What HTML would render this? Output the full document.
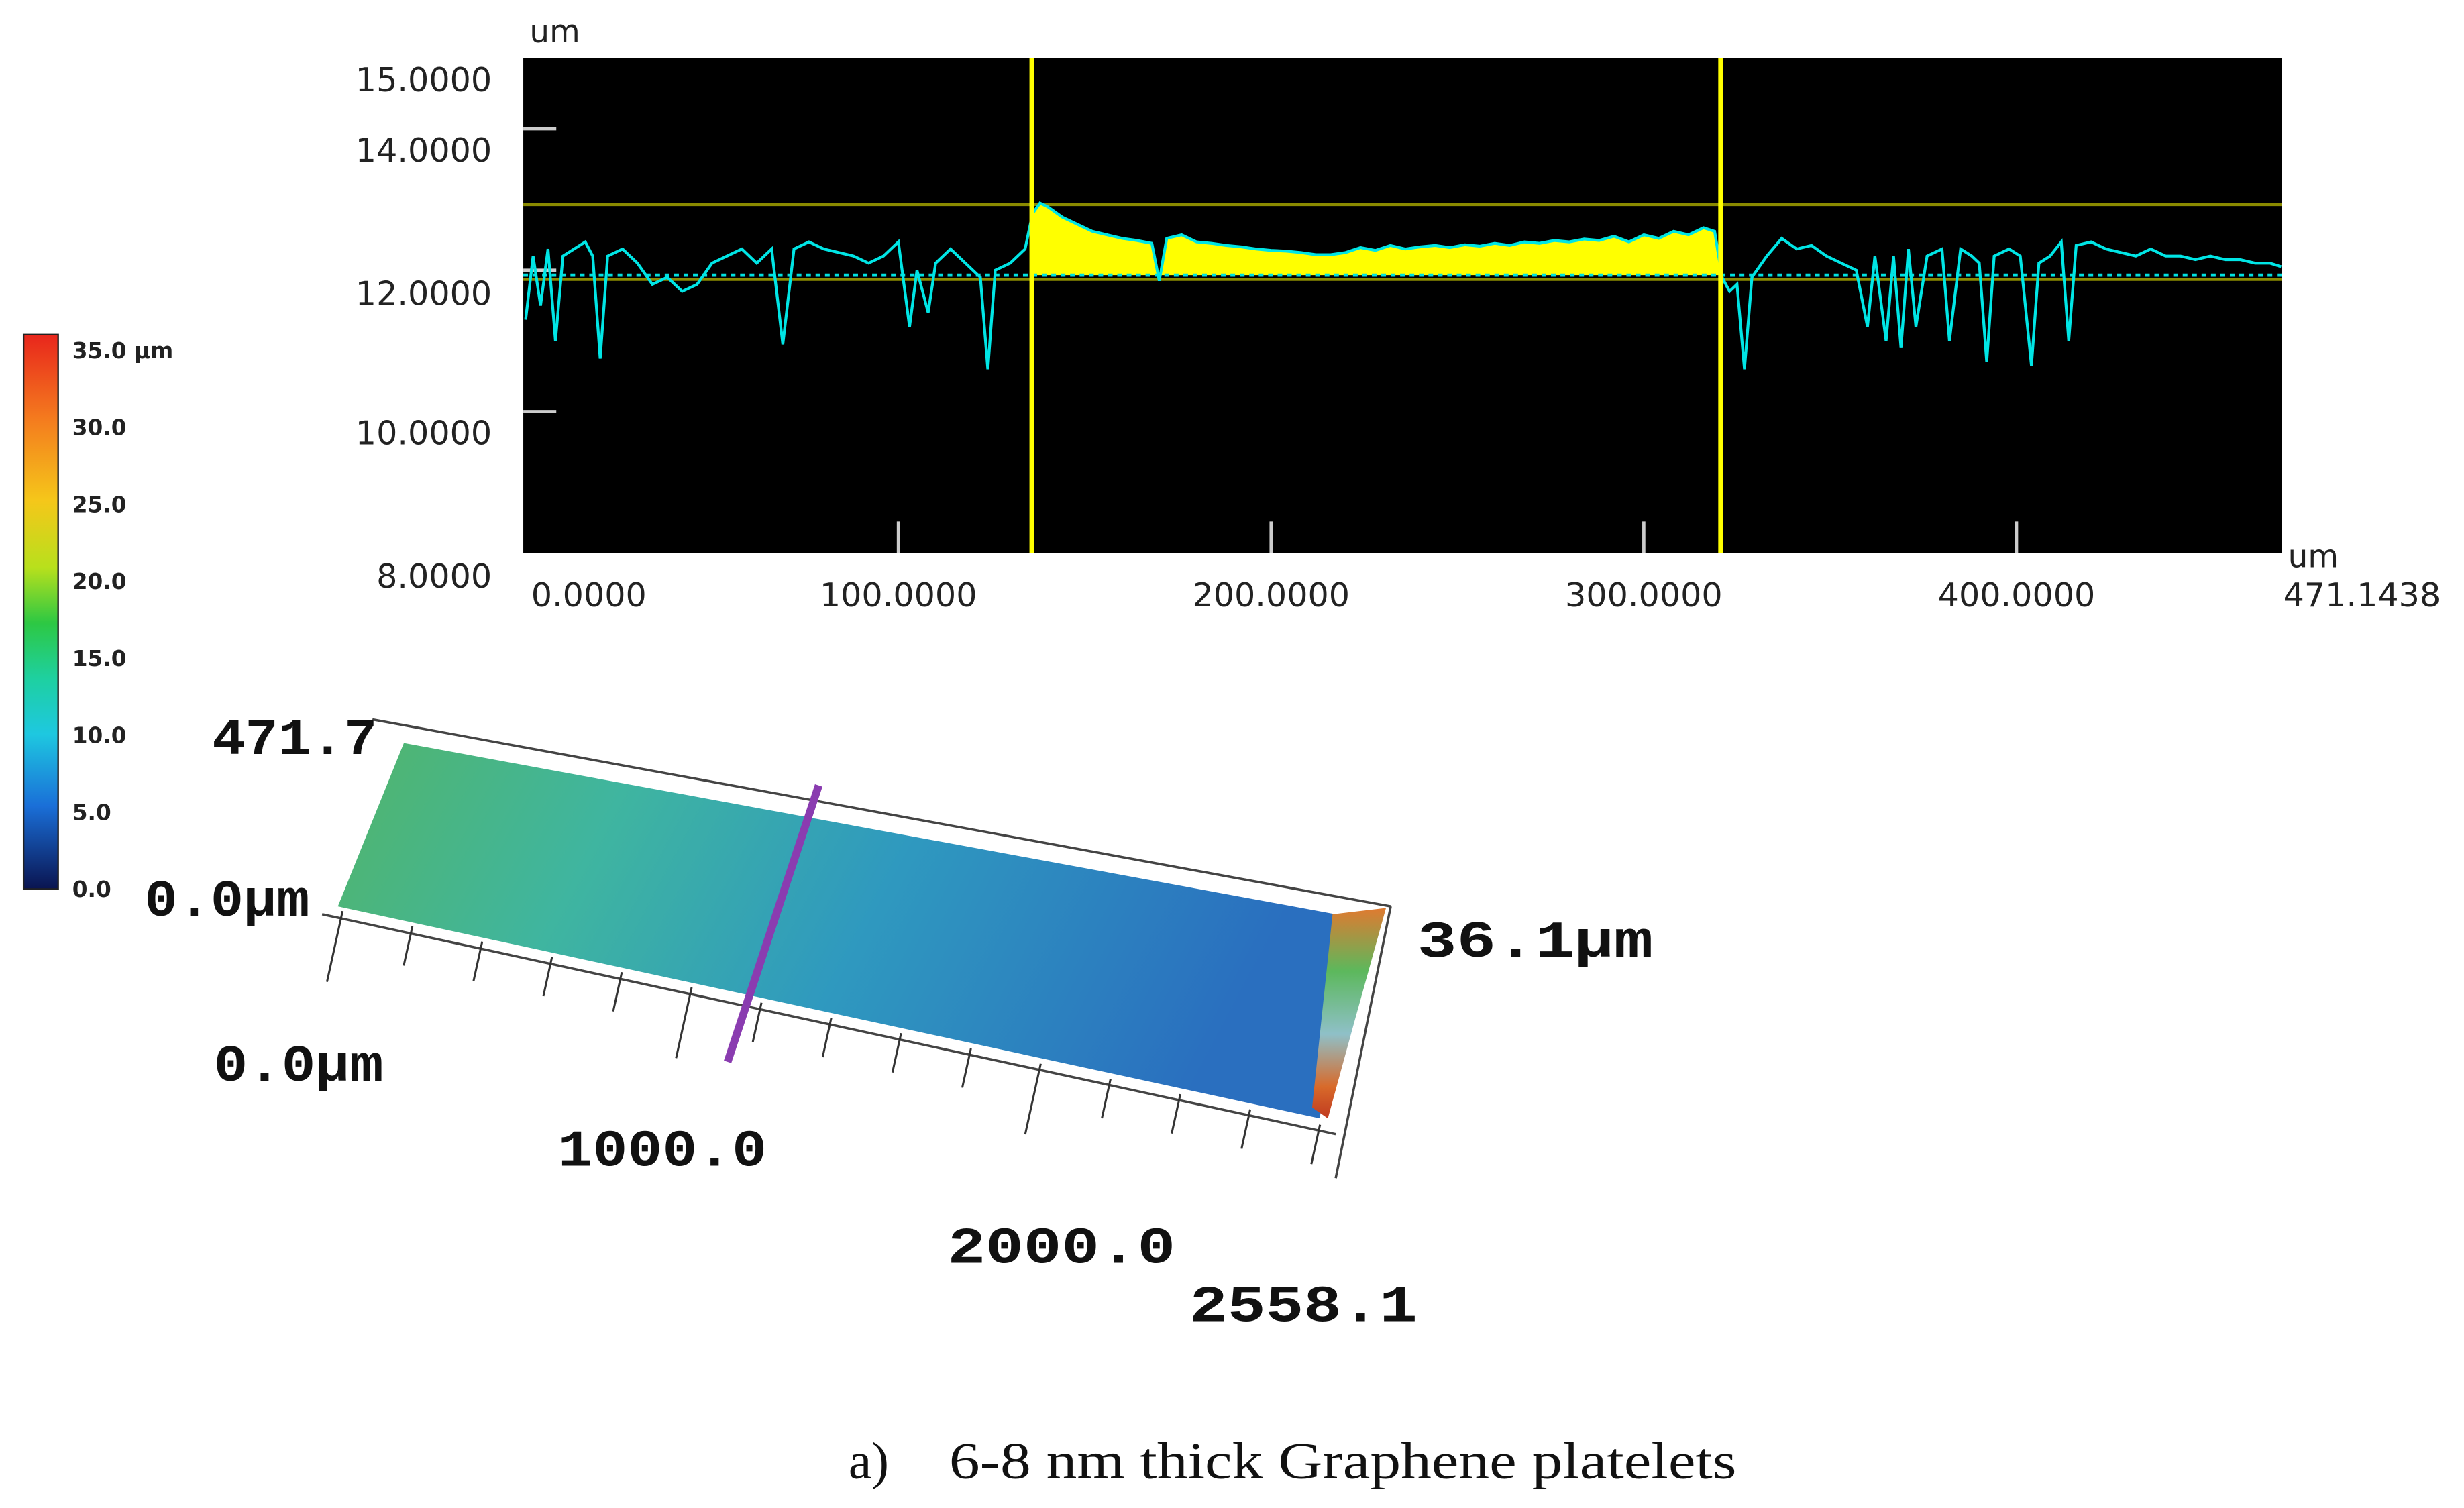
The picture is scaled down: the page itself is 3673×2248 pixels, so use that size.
<!DOCTYPE html>
<html><head><meta charset="utf-8"><style>
html,body{margin:0;padding:0;background:#fff;}
svg{display:block;}
.sans{font-family:"DejaVu Sans","Liberation Sans",sans-serif;}
.mono{font-family:"Liberation Mono","DejaVu Sans Mono",monospace;}
.serif{font-family:"Liberation Serif","DejaVu Serif",serif;}
</style></head><body>
<svg id="fig" width="3673" height="2248" viewBox="0 0 1568 960" preserveAspectRatio="none" xmlns="http://www.w3.org/2000/svg" class="sans">
<defs>
<linearGradient id="cbar" x1="0" y1="0" x2="0" y2="1">
<stop offset="0" stop-color="#e8261c"/><stop offset="0.15" stop-color="#f47a1e"/><stop offset="0.3" stop-color="#f5c71a"/><stop offset="0.42" stop-color="#b8e01c"/><stop offset="0.52" stop-color="#2dc843"/><stop offset="0.62" stop-color="#1ed0a0"/><stop offset="0.72" stop-color="#1ec8e0"/><stop offset="0.85" stop-color="#1a6fd8"/><stop offset="1" stop-color="#0a1450"/>
</linearGradient>
<linearGradient id="surf" x1="0" y1="0" x2="1" y2="0.2">
<stop offset="0" stop-color="#52b56a"/><stop offset="0.3" stop-color="#3fb5a0"/><stop offset="0.6" stop-color="#2f99bf"/><stop offset="1" stop-color="#2a6fbf"/>
</linearGradient>
<linearGradient id="edge" x1="0" y1="0" x2="0" y2="1">
<stop offset="0" stop-color="#e07a30"/><stop offset="0.3" stop-color="#5cb85c"/><stop offset="0.6" stop-color="#8fc0c8"/><stop offset="0.85" stop-color="#d86a2a"/><stop offset="1" stop-color="#c03a20"/>
</linearGradient>
</defs>
<g id="chart">
<rect x="333" y="37" width="1119" height="315" fill="#000"/>
<text x="337" y="27" font-size="20" fill="#222">um</text>
<text x="1456" y="361" font-size="20" fill="#222">um</text>
<g id="yticks"></g><g id="xticks"></g><g id="plot"></g>
</g>
<g>
<rect x="15" y="213" width="22" height="353" fill="url(#cbar)" stroke="#222" stroke-width="1"/>
<g font-size="14" font-weight="bold" fill="#222">
<text x="46" y="228">35.0 µm</text><text x="46" y="277">30.0</text><text x="46" y="326">25.0</text><text x="46" y="375">20.0</text><text x="46" y="424">15.0</text><text x="46" y="473">10.0</text><text x="46" y="522">5.0</text><text x="46" y="571">0.0</text>
</g>
</g>
<g>
<line x1="237" y1="458" x2="885" y2="577" stroke="#444" stroke-width="1.5"/>
<line x1="205" y1="582" x2="850" y2="722" stroke="#444" stroke-width="1.5"/>
<line x1="885" y1="577" x2="850" y2="750" stroke="#444" stroke-width="1.5"/>
<polygon points="257,473 850,582 840,712 215,577" fill="url(#surf)"/>
<polygon points="848,582 882,578 862,650 845,712 835,705" fill="url(#edge)"/>
<g stroke="#333" stroke-width="1.3" id="surfticks"></g>
<line x1="521" y1="500" x2="463" y2="676" stroke="#8a3cb0" stroke-width="5"/>
<g class="mono" font-size="33" font-weight="bold" fill="#111">
<text x="135" y="480" textLength="105" lengthAdjust="spacingAndGlyphs">471.7</text>
<text x="92" y="583" textLength="105" lengthAdjust="spacingAndGlyphs">0.0µm</text>
<text x="902" y="609" textLength="150" lengthAdjust="spacingAndGlyphs">36.1µm</text>
<text x="136" y="688" textLength="108" lengthAdjust="spacingAndGlyphs">0.0µm</text>
<text x="355" y="742" textLength="133" lengthAdjust="spacingAndGlyphs">1000.0</text>
<text x="603" y="804" textLength="145" lengthAdjust="spacingAndGlyphs">2000.0</text>
<text x="757" y="841" textLength="145" lengthAdjust="spacingAndGlyphs">2558.1</text>
</g>
</g>
<g class="serif" font-size="33" fill="#111">
<text x="540" y="941">a)</text>
<text x="604" y="941" textLength="501" lengthAdjust="spacingAndGlyphs">6-8 nm thick Graphene platelets</text>
</g>
</svg>
<script>
const yTickVals=[15,14,12,10,8];
const yTickLabels=["15.0000","14.0000","12.0000","10.0000","8.0000"];
const yLabelPos=[50,95,186,275,366];
const xTickVals=[0,100,200,300,400];
const xTickLabels=["0.0000","100.0000","200.0000","300.0000","400.0000"];
const xMax=471.1438;
const cursorX=[135.8,320.6];
const refLevels=[12.93,11.87];
const baseLevel=11.93;
const profileX=[0,2,4,6,8,10,13,16,18,20,22,26,30,34,38,42,46,50,54,58,62,66,69,72,76,80,84,88,92,96,100,103,105,108,110,114,118,122,124,126,130,134,136,138,140,144,148,152,156,160,164,168,170,172,176,180,184,188,192,196,200,204,208,212,216,220,224,228,232,236,240,244,248,252,256,260,264,268,272,276,280,284,288,292,296,300,304,308,312,316,319,321,323,325,327,329,333,337,341,345,349,353,357,360,362,365,367,369,371,373,376,380,382,385,388,390,392,394,398,401,404,406,409,412,414,416,420,424,428,432,436,440,444,448,452,456,460,464,468,471];
const profileY=[11.3,12.2,11.5,12.3,11.0,12.2,12.3,12.4,12.2,10.75,12.2,12.3,12.1,11.8,11.9,11.7,11.8,12.1,12.2,12.3,12.1,12.3,10.95,12.3,12.4,12.3,12.25,12.2,12.1,12.2,12.4,11.2,12.0,11.4,12.1,12.3,12.1,11.9,10.6,12.0,12.1,12.3,12.8,12.95,12.9,12.75,12.65,12.55,12.5,12.45,12.42,12.38,11.85,12.45,12.5,12.4,12.38,12.35,12.33,12.3,12.28,12.27,12.25,12.22,12.22,12.25,12.32,12.28,12.35,12.3,12.33,12.35,12.32,12.36,12.34,12.38,12.35,12.4,12.38,12.42,12.4,12.44,12.42,12.48,12.4,12.5,12.45,12.55,12.5,12.6,12.55,11.9,11.7,11.8,10.6,11.9,12.2,12.45,12.3,12.35,12.2,12.1,12.0,11.2,12.2,11.0,12.2,10.9,12.3,11.2,12.2,12.3,11.0,12.3,12.2,12.1,10.7,12.2,12.3,12.2,10.65,12.1,12.2,12.4,11.0,12.35,12.4,12.3,12.25,12.2,12.3,12.2,12.2,12.15,12.2,12.15,12.15,12.1,12.1,12.05];

const NS="http://www.w3.org/2000/svg";
const X0=334.5,X1=1452,Y15=37,PXU=45;
function sx(v){return X0+(v/xMax)*(X1-X0);}
function sy(v){return Y15+(15-v)*PXU;}
function mk(tag,attrs,parent){const e=document.createElementNS(NS,tag);for(const k in attrs)e.setAttribute(k,attrs[k]);parent.appendChild(e);return e;}
const yt=document.getElementById('yticks'),xt=document.getElementById('xticks'),pl=document.getElementById('plot');
yTickVals.forEach((v,i)=>{
  if(v<15&&v>8){const t=mk('line',{x1:333,x2:354,y1:sy(v),y2:sy(v),stroke:'#ccc','stroke-width':2},yt);
  
  }
  const l=mk('text',{x:313,y:yLabelPos[i]+8,'text-anchor':'end','font-size':21,fill:'#222'},yt);
  l.textContent=yTickLabels[i];
  
  
});
xTickVals.forEach((v,i)=>{
  if(v>0){const t=mk('line',{x1:sx(v),x2:sx(v),y1:332,y2:352,stroke:'#ccc','stroke-width':2},xt);
  
  }
  const l=mk('text',{x:v===0?338:sx(v),y:386,'text-anchor':v===0?'start':'middle','font-size':21,fill:'#222'},xt);
  l.textContent=xTickLabels[i];
  
  
});
const lm=mk('text',{x:1453,y:386,'font-size':21,fill:'#222'},xt);
lm.textContent="471.1438";


refLevels.forEach(v=>{const r=mk('line',{x1:333,x2:1452,y1:sy(v),y2:sy(v),stroke:'#8a8a00','stroke-width':2},pl);

});
let fp=[];for(let i=0;i<profileX.length;i++){if(profileX[i]>=cursorX[0]&&profileX[i]<=cursorX[1])fp.push(sx(profileX[i])+','+sy(Math.max(profileY[i],baseLevel)));}
fp.push(sx(cursorX[1])+','+sy(baseLevel));fp.push(sx(cursorX[0])+','+sy(baseLevel));
const f=mk('polygon',{points:fp.join(' '),fill:'#ffff00'},pl);


const bl=mk('line',{x1:333,x2:1452,y1:sy(baseLevel),y2:sy(baseLevel),stroke:'#00e0e0','stroke-width':2,'stroke-dasharray':'3,3'},pl);


const pts=profileX.map((x,i)=>sx(x)+','+sy(profileY[i])).join(' ');
const pr=mk('polyline',{points:pts,fill:'none',stroke:'#00e5e5','stroke-width':1.8},pl);


cursorX.forEach(v=>{const c=mk('line',{x1:sx(v),x2:sx(v),y1:37,y2:352,stroke:'#ffff00','stroke-width':3},pl);

});
const st=document.getElementById('surfticks');
for(let i=0;i<15;i++){const t=i/14;const x=218+t*(840-218),y=580+t*(716-580);
const len=(i%5===0)?45:25;
const l=mk('line',{x1:x,y1:y,x2:x-len*0.22,y2:y+len},st);

}
</script>
</body></html>
